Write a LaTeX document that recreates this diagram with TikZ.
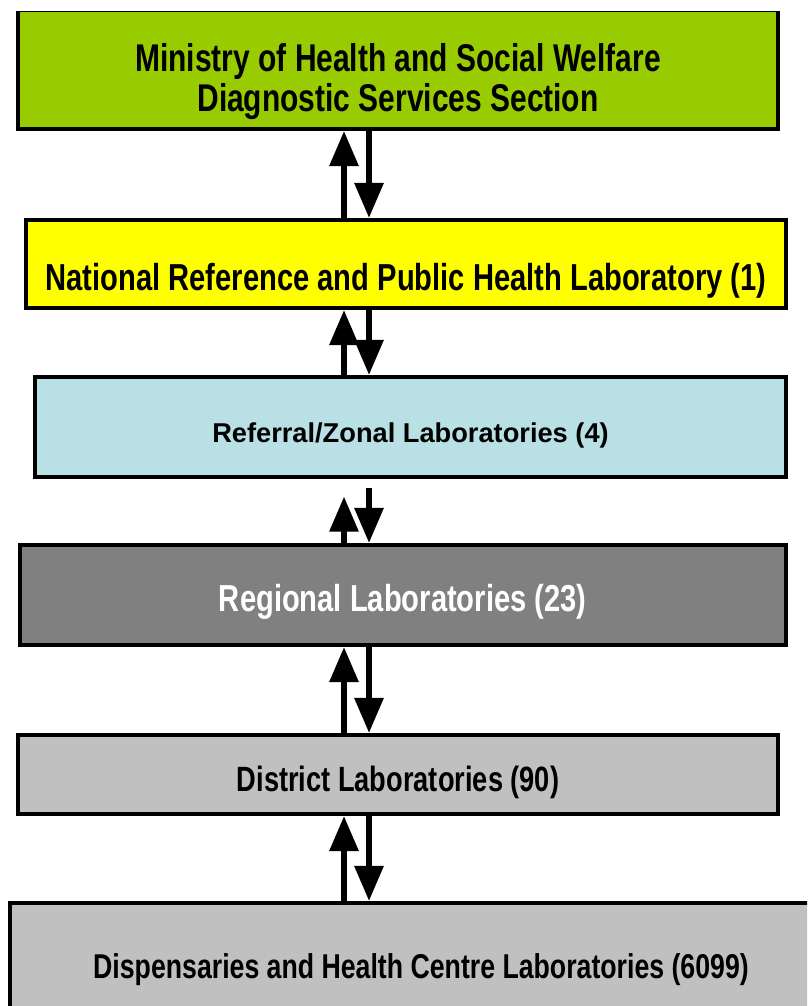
\documentclass[tikz,border=0pt]{standalone}
\usepackage{fontspec}
\setmainfont{Liberation Sans}[FakeStretch=0.775]
\newfontfamily\zonfont{Liberation Sans}
\usetikzlibrary{arrows.meta,positioning}
\definecolor{cMin}{HTML}{99CC00}
\definecolor{cNat}{HTML}{FFFF00}
\definecolor{cZon}{HTML}{B9E0E4}
\definecolor{cReg}{HTML}{808080}
\definecolor{cDis}{HTML}{C0C0C0}
\tikzset{
  lvl/.style  = {rectangle, draw=black, line width=2.3pt, align=center,
                 inner sep=0pt},
  lift/.style = {text height=#1, text depth=0pt},
  flow/.style = {-{Triangle[width=16pt,length=20pt]}, draw=black, line width=3.4pt},
}

\begin{document}
\begin{tikzpicture}[x=0.02cm, y=-0.02cm]
  \useasboundingbox (0,0) rectangle (807,1006);
  \clip (0,12) rectangle (807,1006);

  % ---- the six levels ----
  \node[lvl, fill=cMin, minimum width=15.2cm, minimum height=2.38cm, lift=48pt,
        font=\fontsize{22pt}{23pt}\selectfont\bfseries] (mohsw) at (398,69.5)
    {Ministry of Health and Social Welfare\\Diagnostic Services Section};
  \node[lvl, fill=cNat, minimum width=15.2cm, minimum height=1.76cm, lift=30pt,
        font=\fontsize{21.4pt}{24pt}\selectfont\bfseries] (nrl) at (406,264)
    {National Reference and Public Health Laboratory (1)};
  \node[lvl, fill=cZon, minimum width=15.02cm, minimum height=2cm, lift=17.9pt,
        font=\zonfont\fontsize{15.5pt}{18pt}\selectfont\bfseries] (zonal) at (410.5,427)
    {Referral/Zonal Laboratories (4)};
  \node[lvl, fill=cReg, text=white, minimum width=15.33cm, minimum height=2cm, lift=19.3pt,
        font=\fontsize{21.4pt}{24pt}\selectfont\bfseries] (regional) at (402.75,595)
    {Regional Laboratories (23)};
  \node[lvl, fill=cDis, minimum width=15.2cm, minimum height=1.58cm, lift=19.9pt,
        font=\fontsize{20pt}{22pt}\selectfont\bfseries] (district) at (398,774.5)
    {District Laboratories (90)};
  \node[lvl, fill=cDis, minimum width=16.44cm, minimum height=2.52cm, lift=14.3pt,
        font=\fontsize{19.6pt}{22pt}\selectfont\bfseries] (disp) at (421,966)
    {Dispensaries and Health Centre Laboratories (6099)};

  % ---- up / down arrows between levels ----
  \coordinate (ux) at (344,0);
  \coordinate (dx) at (369,0);
  \draw[flow] (nrl.north -| ux) -- (mohsw.south -| ux);
  \draw[flow] (mohsw.south -| dx) -- (nrl.north -| dx);
  \draw[flow] (zonal.north -| ux) -- (nrl.south -| ux);
  \draw[flow] (nrl.south -| dx) -- (zonal.north -| dx);
  \draw[flow, shorten >=10pt] (regional.north -| ux) -- (zonal.south -| ux);
  \draw[flow, shorten <=5pt] (zonal.south -| dx) -- (regional.north -| dx);
  \draw[flow] (district.north -| ux) -- (regional.south -| ux);
  \draw[flow] (regional.south -| dx) -- (district.north -| dx);
  \draw[flow] (disp.north -| ux) -- (district.south -| ux);
  \draw[flow] (district.south -| dx) -- (disp.north -| dx);
\end{tikzpicture}
\end{document}
